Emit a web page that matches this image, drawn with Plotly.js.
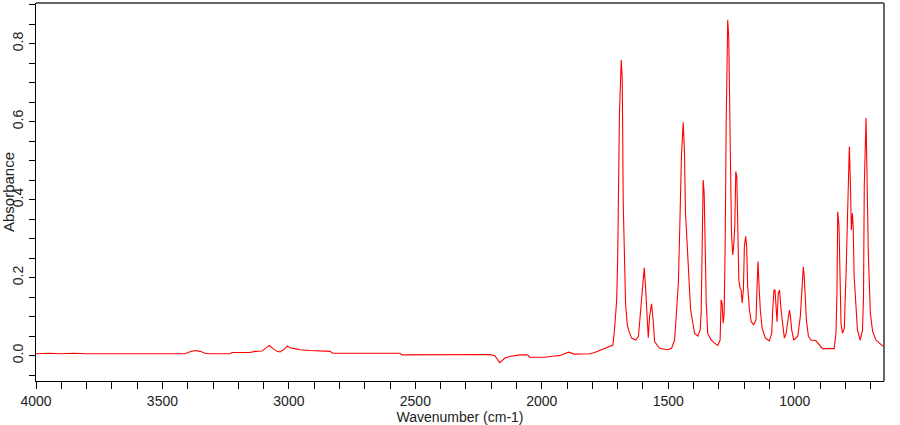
<!DOCTYPE html>
<html>
<head>
<meta charset="utf-8">
<script src="https://cdn.plot.ly/plotly-3.0.1.min.js"></script>
<style>html,body{margin:0;padding:0;background:#fff;}#chart{width:900px;height:425px;}</style>
</head>
<body>
<div id="chart"></div>
<script>
// Wavenumber (cm-1), descending
const wavenumber = [
4000,3950,3900,3850,3800,3750,3700,3650,3600,3550,3500,3450,3410,3391,3371,3351,3331,3312,3233,3225,3154,3134,3106,3090,3077,3063,3047,3035,3019,3006,2996,2976,2956,2917,2877,2838,2826,2700,2561,2553,2400,2304,2296,2205,2186,2166,2146,2127,2087,2056,2048,1989,1950,1930,1910,1894,1871,1811,1791,
1745,1719,1712,1704,1700,1696,1693,1686,1682,1678,1674,1669,1662,1657,1645,1629,1618,1610,1603,1595,1590,1583,1579,1574,1566,1560,1554,1535,1503,1487,1475,1467,1460,1453,1448,1441,1436,1432,1428,1424,1420,1416,1412,
1405,1396,1383,1374,1370,1366,1362,1358,1354,1350,1344,1330,1317,1304,1295,1291,1287,1283,1279,1275,1271,1267,1265,1261,1258,1254,1250,1245,1241,1237,1233,1229,1225,1221,1216,1212,1208,1203,1199,1194,1190,1186,1179,1172,1162,1153,1149,1145,1141,1136,1129,1116,1100,1091,1087,1082,1078,1074,1070,1065,1060,1054,1048,1041,
1034,1021,1017,1012,1004,988,978,973,966,962,958,954,946,936,916,903,890,844,837,833,830,825,821,817,811,804,797,791,784,780,776,772,769,765,759,752,741,732,728,725,718,714,709,701,692,679,659,649
];
// Absorbance
const absorbance = [
0.005,0.006,0.005,0.006,0.005,0.005,0.006,0.005,0.005,0.005,0.005,0.005,0.005,0.010,0.013,0.011,0.006,0.005,0.005,0.008,0.008,0.011,0.012,0.020,0.026,0.018,0.011,0.0095,0.016,0.025,0.020,0.018,0.015,0.013,0.012,0.011,0.006,0.006,0.006,0.002,0.002,0.002,0.0035,0.003,0.000,-0.018,-0.006,-0.002,0.002,0.002,-0.004,-0.004,-0.001,0.000,0.005,0.009,0.004,0.005,0.008,
0.0215,0.027,0.071,0.143,0.25,0.47,0.62,0.758,0.71,0.39,0.253,0.135,0.079,0.066,0.045,0.040,0.049,0.109,0.148,0.225,0.177,0.092,0.046,0.100,0.133,0.092,0.036,0.019,0.015,0.019,0.040,0.117,0.186,0.369,0.51,0.598,0.523,0.369,0.32,0.245,0.20,0.15,0.12,
0.092,0.057,0.050,0.066,0.109,0.289,0.45,0.416,0.28,0.138,0.057,0.040,0.032,0.026,0.040,0.143,0.134,0.083,0.109,0.28,0.596,0.801,0.861,0.818,0.638,0.455,0.314,0.258,0.284,0.331,0.472,0.459,0.348,0.194,0.173,0.168,0.135,0.168,0.28,0.306,0.28,0.177,0.117,0.087,0.079,0.092,0.177,0.241,0.177,0.117,0.070,0.045,0.038,0.057,0.117,0.168,0.168,0.117,0.087,0.160,0.168,0.117,0.074,0.045,
0.057,0.117,0.100,0.066,0.040,0.050,0.100,0.168,0.228,0.200,0.151,0.092,0.050,0.040,0.038,0.027,0.018,0.018,0.057,0.160,0.369,0.335,0.194,0.083,0.057,0.070,0.212,0.378,0.536,0.446,0.322,0.365,0.331,0.203,0.134,0.066,0.040,0.066,0.151,0.433,0.609,0.442,0.263,0.109,0.062,0.040,0.027,0.023
];
const xTickVals = [4000,3500,3000,2500,2000,1500,1000];
const xTickText = ["4000","3500","3000","2500","2000","1500","1000"];
const yTickVals = [0,0.2,0.4,0.6,0.8];
const yTickText = ["0.0","0.2","0.4","0.6","0.8"];

const font = {family: "Liberation Sans, Arial, sans-serif", size: 14, color: "#222"};

Plotly.newPlot("chart", [{
  x: wavenumber, y: absorbance, type: "scatter", mode: "lines",
  line: {color: "#ff0000", width: 1.1}, hoverinfo: "x+y"
}], {
  width: 900, height: 425,
  margin: {l: 36, r: 16, t: 3, b: 44},
  paper_bgcolor: "#fff", plot_bgcolor: "#fff",
  font: font,
  showlegend: false,
  xaxis: {
    range: [4000, 647], autorange: false,
    tickvals: xTickVals, ticktext: xTickText,
    ticks: "outside", ticklen: 7, tickcolor: "#000", tickwidth: 1,
    minor: {dtick: 100, tick0: 0, ticks: "outside", ticklen: 7, tickcolor: "#000", tickwidth: 1, showgrid: false},
    showline: true, linecolor: "#000", linewidth: 1, mirror: false,
    showgrid: false, zeroline: false,
    tickfont: font,
    title: {text: "Wavenumber (cm-1)", font: font, standoff: 1}
  },
  yaxis: {
    range: [-0.065, 0.904], autorange: false,
    tickvals: yTickVals, ticktext: yTickText, tickangle: -90,
    ticks: "outside", ticklen: 6, tickcolor: "#000", tickwidth: 1,
    minor: {dtick: 0.05, tick0: 0, ticks: "outside", ticklen: 6, tickcolor: "#000", tickwidth: 1, showgrid: false},
    showline: true, linecolor: "#000", linewidth: 1, mirror: false,
    showgrid: false, zeroline: false,
    tickfont: font,
    title: {text: "Absorbance", font: {family: font.family, size: 15, color: "#222"}, standoff: 0}
  },
  shapes: [
    {type: "line", xref: "paper", yref: "paper", x0: 0, x1: 1, y0: 1, y1: 1, line: {color: "#666", width: 2}},
    {type: "line", xref: "paper", yref: "paper", x0: 1, x1: 1, y0: 0, y1: 1, line: {color: "#666", width: 2}}
  ]
}, {displayModeBar: false, staticPlot: true});
</script>
</body>
</html>
